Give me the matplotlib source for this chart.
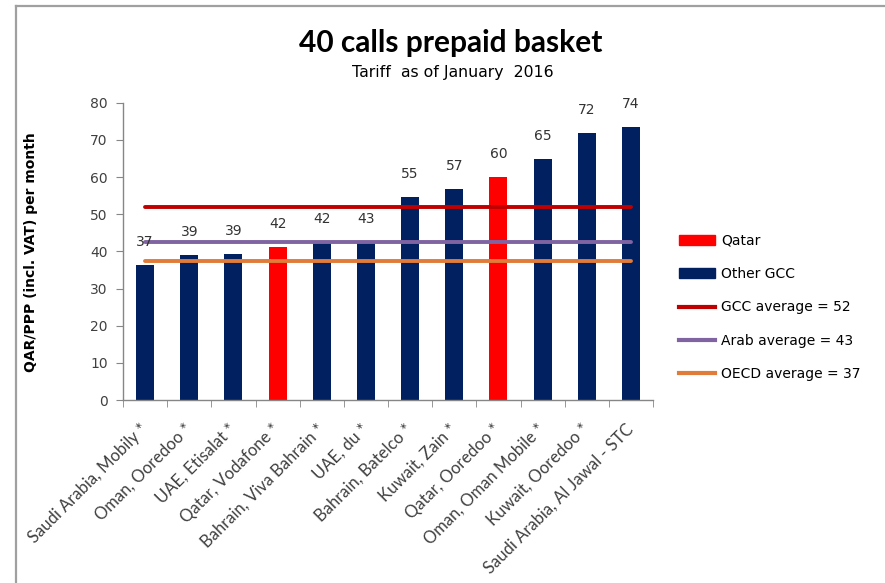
import matplotlib
matplotlib.use("Agg")
import matplotlib.pyplot as plt
from matplotlib.patches import Patch
from matplotlib.lines import Line2D

categories = ["Saudi Arabia, Mobily *", "Oman, Ooredoo *", "UAE, Etisalat *",
              "Qatar, Vodafone *", "Bahrain, Viva Bahrain *", "UAE, du *",
              "Bahrain, Batelco *", "Kuwait, Zain *", "Qatar, Ooredoo *",
              "Oman, Oman Mobile *", "Kuwait, Ooredoo *", "Saudi Arabia, Al Jawal - STC"]
values = [36.4, 39.0, 39.4, 41.3, 42.5, 42.6, 54.7, 56.9, 59.9, 64.8, 71.9, 73.4]
value_labels = ["37", "39", "39", "42", "42", "43", "55", "57", "60", "65", "72", "74"]
is_qatar = [False, False, False, True, False, False, False, False, True, False, False, False]
gcc_avg = 52
arab_avg = 42.6
oecd_avg = 37.3
avg_labels = ["GCC average = 52", "Arab average = 43", "OECD average = 37"]

NAVY = "#002060"
RED = "#FF0000"
GCC_C = "#C00000"
ARAB_C = "#8064A2"
OECD_C = "#E07B39"
TXT = "#404040"

fig = plt.figure(figsize=(8.85, 5.83), dpi=100)
ax = fig.add_axes([123/885, 1-400/583, (653-123)/885, (400-102.7)/583])

x = list(range(len(categories)))
colors = [RED if q else NAVY for q in is_qatar]
ax.bar(x, values, width=0.41, color=colors, zorder=2)

for xi, v, lab in zip(x, values, value_labels):
    ax.annotate(lab, (xi, v), xytext=(0, 16.5), textcoords="offset points",
                ha="center", va="center", fontsize=10, color="#333333",
                family="DejaVu Sans", zorder=4)

n = len(categories)
ax.plot([0, n-1], [gcc_avg]*2, color=GCC_C, lw=2.8, zorder=3, solid_capstyle="round")
ax.plot([0, n-1], [arab_avg]*2, color=ARAB_C, lw=2.8, zorder=3, solid_capstyle="round")
ax.plot([0, n-1], [oecd_avg]*2, color=OECD_C, lw=2.8, zorder=3, solid_capstyle="round")

ax.set_xlim(-0.5, n-0.5)
ax.set_ylim(0, 80)
ax.set_yticks(range(0, 81, 10))
ax.tick_params(axis="y", labelsize=10, labelcolor=TXT, color="#868686", length=5, pad=6)
ax.set_xticks(x)
ax.set_xticklabels(categories, rotation=45, ha="right", rotation_mode="anchor",
                   fontsize=12, family="Lato", color=TXT, va="center")
ax.tick_params(axis="x", which="major", length=0, pad=19)
ax.set_xticks([i - 0.5 for i in range(n+1)], minor=True)
ax.tick_params(axis="x", which="minor", length=5, color="#868686")
for s in ["top", "right"]:
    ax.spines[s].set_visible(False)
for s in ["left", "bottom"]:
    ax.spines[s].set_color("#868686")
    ax.spines[s].set_linewidth(1)

ax.set_ylabel("QAR/PPP (incl. VAT) per month", fontsize=10, fontweight="bold",
              family="DejaVu Sans", color="black")
ax.yaxis.set_label_coords((38-123)/(653-123), (400-252)/(400-102.7))

fig.text(451/885, 1-43/583, "40 calls prepaid basket", ha="center", va="center",
         fontsize=21.5, fontweight="bold", family="Lato")
fig.text(453/885, 1-73/583, "Tariff  as of January  2016", ha="center", va="center",
         fontsize=11.3, family=["Liberation Sans Narrow", "DejaVu Sans"])

handles = [Patch(color=RED), Patch(color=NAVY),
           Line2D([], [], color=GCC_C, lw=3), Line2D([], [], color=ARAB_C, lw=3),
           Line2D([], [], color=OECD_C, lw=3)]
labels = ["Qatar", "Other GCC"] + avg_labels
leg = fig.legend(handles, labels, loc="upper left",
                 bbox_to_anchor=(666/885, 1-221/583), frameon=False,
                 fontsize=10, handlelength=2.6, handleheight=0.7,
                 labelspacing=1.4, handletextpad=0.45)
for t in leg.get_texts():
    t.set_color("black")

fig.add_artist(Line2D([15.5/885, 1], [1-5.5/583, 1-5.5/583], color="#a0a0a0", lw=1.6))
fig.add_artist(Line2D([15.5/885, 15.5/885], [0, 1-5.5/583], color="#a0a0a0", lw=1.6))

fig.savefig("out.png", dpi=100)
